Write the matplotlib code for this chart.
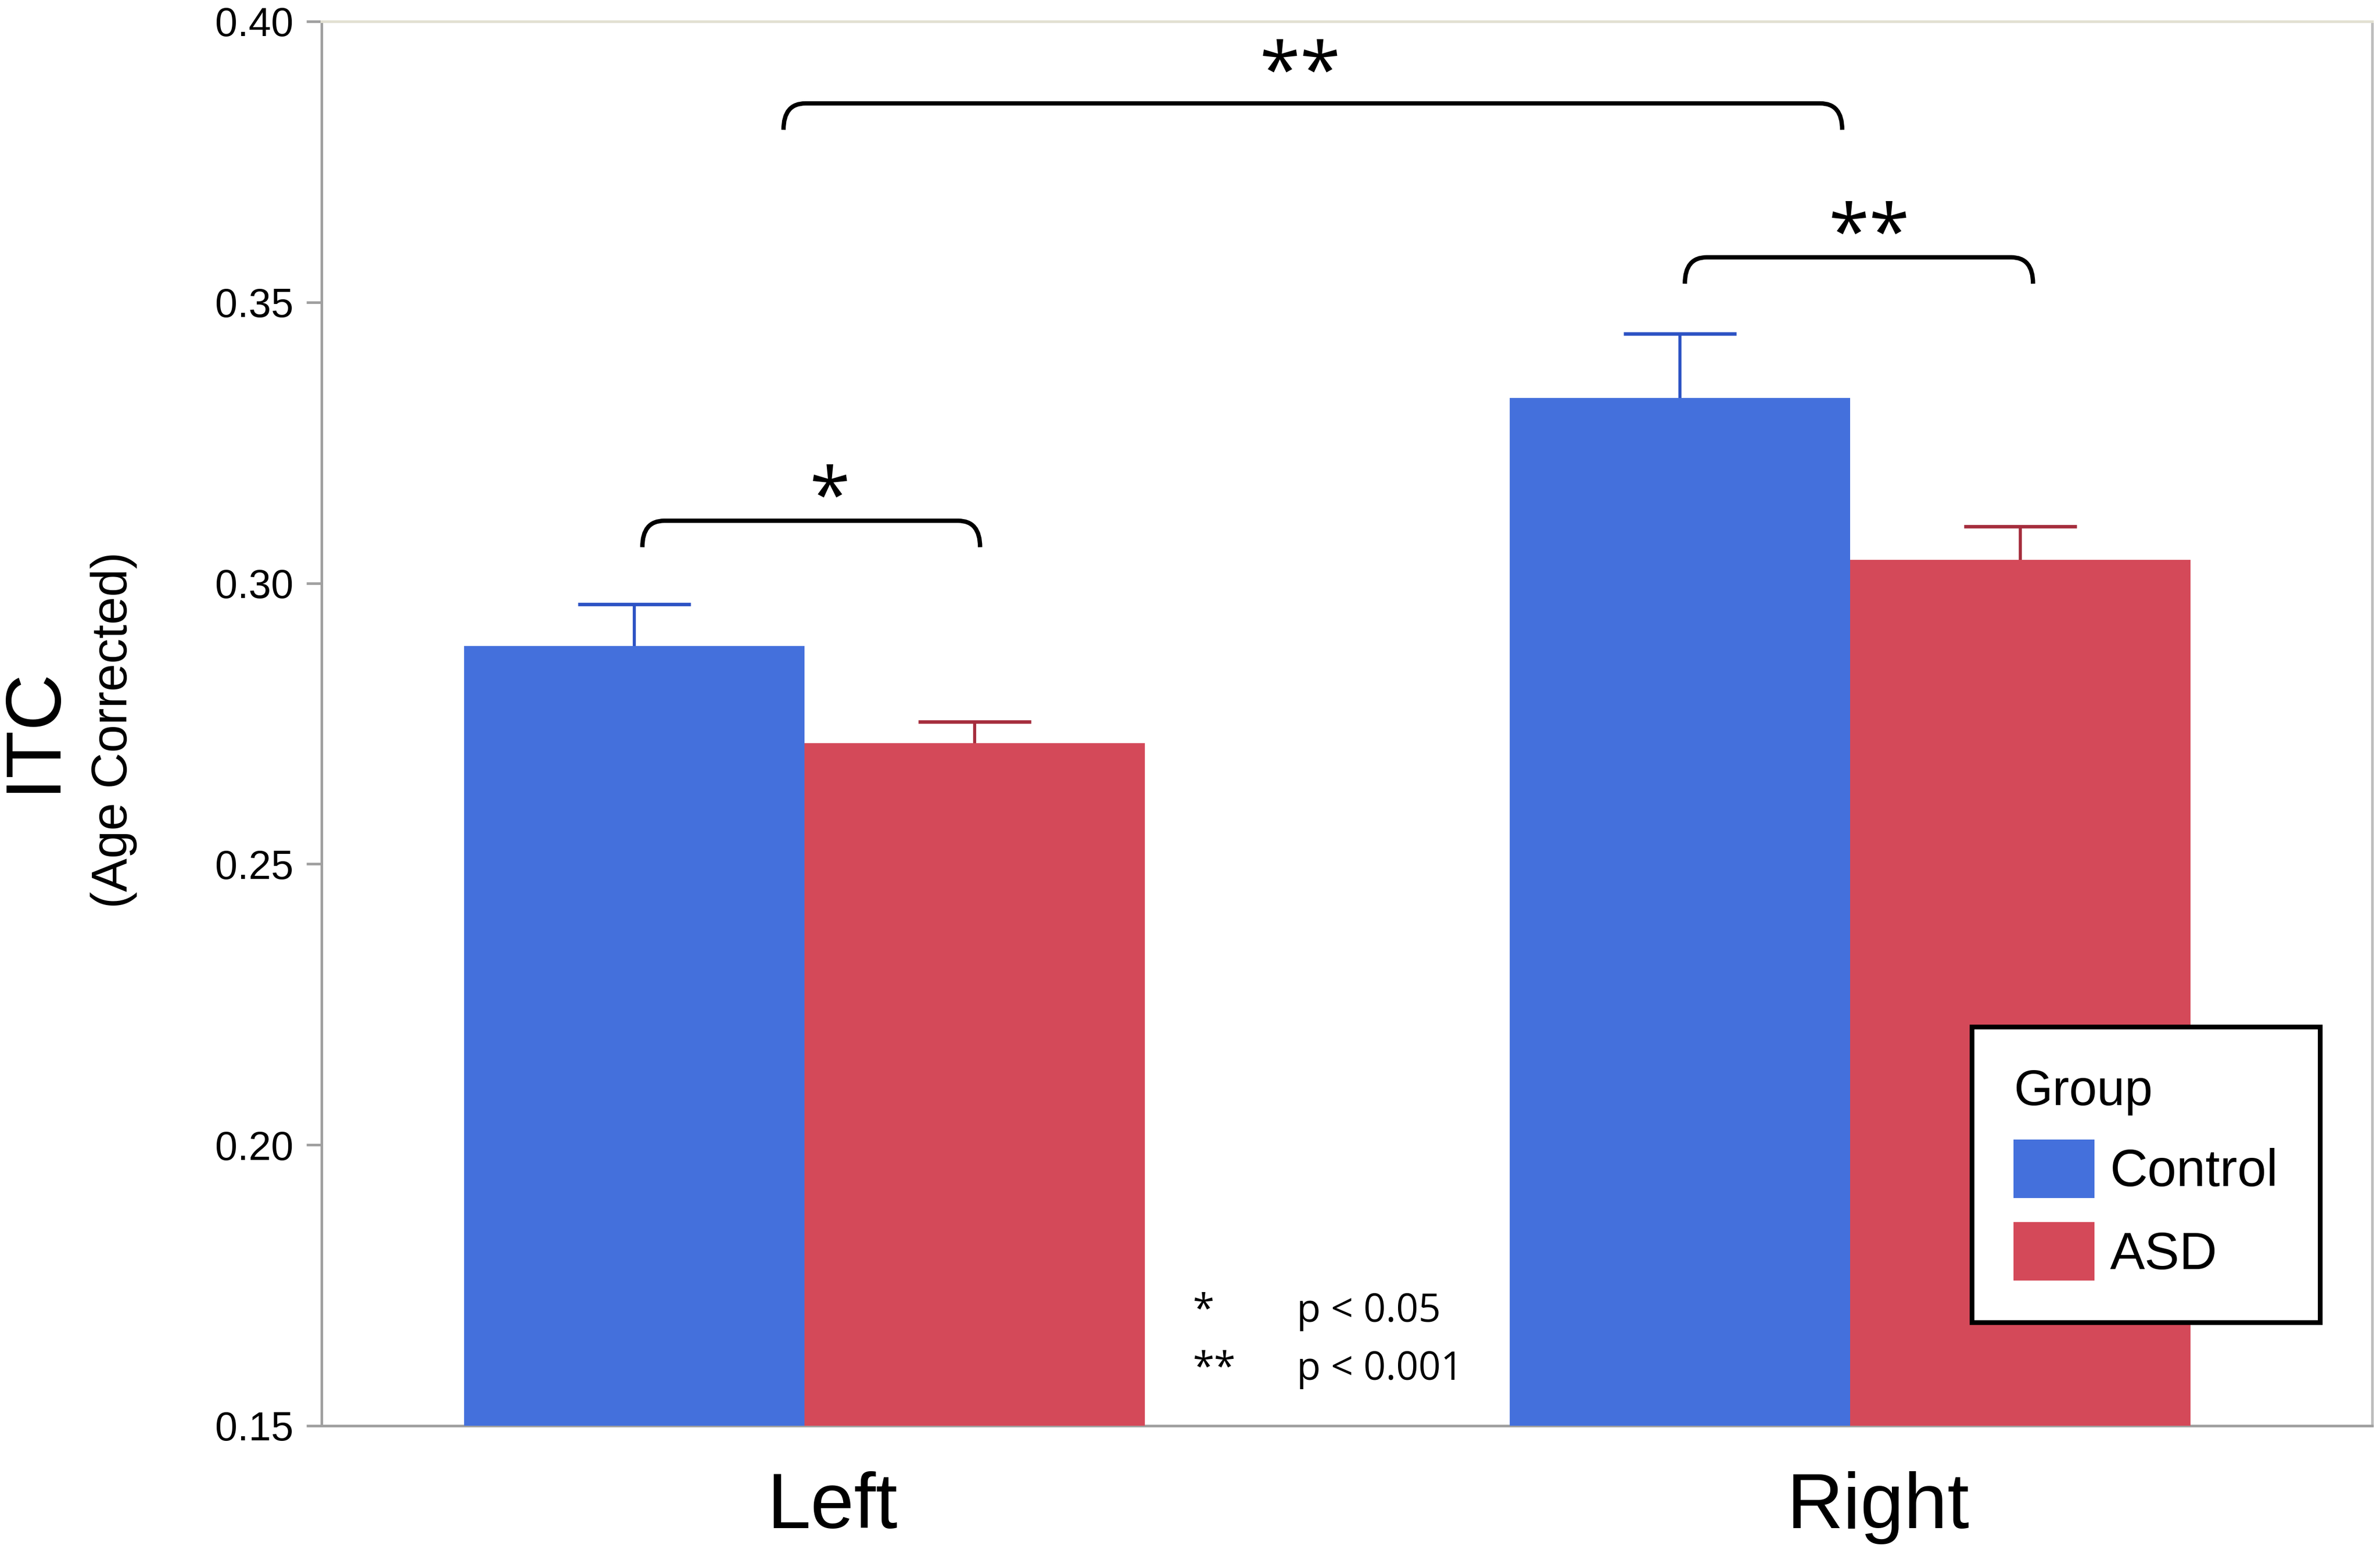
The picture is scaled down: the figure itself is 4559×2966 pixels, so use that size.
import matplotlib
matplotlib.use("Agg")
import matplotlib.pyplot as plt
import matplotlib.transforms as mtransforms
from matplotlib.path import Path
from matplotlib.patches import PathPatch
import numpy as np

plt.rcParams['font.family'] = ['Liberation Sans', 'DejaVu Sans']

# data
hemis = ["Left", "Right"]
groups = ["Control", "ASD"]
itc_control = [0.2888, 0.3330]
itc_asd = [0.2715, 0.3041]
err_control = [0.0074, 0.0114]
err_asd = [0.0038, 0.0060]

# significance brackets: (x start, x end, y top, star x, star y, label)
brackets = [(-0.02, 0.9925, 0.3854, 0.4743, 0.3836, "**"),
            (-0.155, 0.168, 0.3111, 0.0245, 0.3079, "*"),
            (0.842, 1.175, 0.3580, 1.0185, 0.3548, "**")]

blue = "#4470DC"
red = "#D44959"
blue_err = "#2C52C4"
red_err = "#A52D3D"

fig = plt.figure(figsize=(4559/300, 2966/300), dpi=300)
ax = fig.add_axes([0.1351, 0.0796, 0.8616, 0.9066])

x = np.arange(len(hemis))
w = 0.3255
b1 = ax.bar(x - w/2, itc_control, w, color=blue, label=groups[0], zorder=3)
b2 = ax.bar(x + w/2, itc_asd, w, color=red, label=groups[1], zorder=3)
ax.errorbar(x - w/2, itc_control, yerr=err_control, fmt='none', ecolor=blue_err,
            elinewidth=1.4, capsize=26, capthick=1.6, zorder=2)
ax.errorbar(x + w/2, itc_asd, yerr=err_asd, fmt='none', ecolor=red_err,
            elinewidth=1.4, capsize=26, capthick=1.6, zorder=2)

ax.set_xlim(-0.4618, 1.4993)
ax.set_ylim(0.15, 0.40)
ax.set_yticks([0.15, 0.20, 0.25, 0.30, 0.35, 0.40])
ax.set_yticklabels(["%.2f" % v for v in [0.15, 0.20, 0.25, 0.30, 0.35, 0.40]])
ax.set_xticks(x)
ax.set_xticklabels(hemis, fontsize=36)
ax.tick_params(axis='x', length=0, pad=21)
ax.tick_params(axis='y', length=7, width=1.2, color='#A0A0A0', labelsize=18.5, pad=6)
shift = mtransforms.ScaledTranslation(0.18, 0, fig.dpi_scale_trans)
for lbl in ax.get_xticklabels():
    lbl.set_transform(lbl.get_transform() + shift)

for s in ['left', 'bottom']:
    ax.spines[s].set_color('#A0A0A0')
    ax.spines[s].set_linewidth(1.2)
ax.spines['top'].set_color('#E2E0D2')
ax.spines['top'].set_linewidth(1.2)
ax.spines['right'].set_color('#BDBDBD')
ax.spines['right'].set_linewidth(1.2)

# y label in two parts
ax.text(-0.1405, 0.4955, "ITC", transform=ax.transAxes, rotation=90,
        ha='center', va='center', fontsize=36)
ax.text(-0.1013, 0.4955, "(Age Corrected)", transform=ax.transAxes, rotation=90,
        ha='center', va='center', fontsize=23)

# curly brackets
dx = 0.021
h = 0.0047
for x0, x1, y, sx, sy, lab in brackets:
    verts = [(x0, y - h), (x0, y), (x0 + dx, y), (x1 - dx, y), (x1, y), (x1, y - h)]
    codes = [Path.MOVETO, Path.CURVE3, Path.CURVE3, Path.LINETO, Path.CURVE3, Path.CURVE3]
    ax.add_patch(PathPatch(Path(verts, codes), fill=False, lw=2.0, color='black', zorder=4))
    ax.text(sx, sy, lab, ha='center', va='bottom',
            fontsize=34, family=['Open Sans', 'DejaVu Sans'])

# p-value key
key_stars = ["*", "**"]
key_text = ["p < 0.05", "p < 0.001"]
for i in range(2):
    yy = 0.1703 - i * 0.0103
    ax.text(0.3716, yy, key_stars[i], ha='left', va='center', fontsize=18,
            family=['Open Sans', 'DejaVu Sans'])
    ax.text(0.4709, yy, key_text[i], ha='left', va='center', fontsize=18,
            family=['Open Sans', 'DejaVu Sans'])

leg = ax.legend(handles=[b1, b2], title="Group", loc='upper left',
                bbox_to_anchor=(0.8047, 0.2841), borderaxespad=0,
                fontsize=24, title_fontsize=23, fancybox=False,
                edgecolor='black', framealpha=1, borderpad=0.8,
                handlelength=1.55, handleheight=1.35, handletextpad=0.3,
                labelspacing=0.46, alignment='left')
leg.get_frame().set_linewidth(2.2)
leg.set_zorder(5)

fig.savefig("out.png", dpi=300)
